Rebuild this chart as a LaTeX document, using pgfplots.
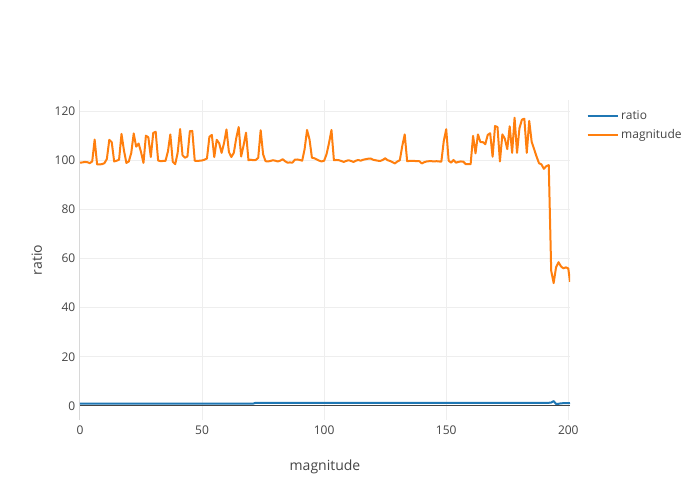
\documentclass[border=0pt]{standalone}
\usepackage{fontspec}
\setmainfont{Open Sans}
\usepackage{pgfplots}
\usepackage{pgfplotstable}
\pgfplotsset{compat=1.18}
\definecolor{plblue}{HTML}{1F77B4}
\definecolor{plorange}{HTML}{FF7F0E}
\definecolor{txtgray}{HTML}{444444}
\definecolor{gridgray}{HTML}{EEEEEE}
\definecolor{zerogray}{HTML}{444444}

\pgfplotstableread{
x y
0 99.0
1 99.1
2 99.3
3 99.2
4 98.8
5 99.5
6 108.4
7 98.3
8 98.3
9 98.4
10 98.8
11 100.5
12 108.3
13 107.3
14 99.5
15 99.8
16 100.2
17 110.7
18 104.0
19 98.9
20 99.5
21 103.0
22 110.9
23 105.5
24 106.8
25 103.3
26 98.9
27 110.0
28 109.3
29 101.3
30 111.1
31 111.6
32 99.9
33 99.6
34 99.7
35 99.7
36 103.5
37 110.5
38 99.4
39 98.4
40 103.0
41 112.7
42 102.0
43 101.0
44 101.5
45 111.8
46 111.9
47 99.8
48 99.7
49 99.8
50 99.9
51 100.2
52 100.7
53 109.5
54 110.3
55 101.3
56 108.3
57 106.9
58 103.0
59 107.0
60 112.5
61 103.3
62 101.3
63 103.0
64 109.0
65 113.5
66 101.5
67 106.0
68 111.2
69 100.0
70 100.2
71 100.0
72 100.1
73 101.0
74 112.2
75 102.4
76 99.6
77 99.5
78 99.7
79 100.0
80 99.8
81 99.5
82 99.8
83 100.4
84 99.6
85 99.0
86 99.1
87 99.0
88 100.2
89 100.3
90 100.1
91 99.8
92 104.5
93 112.3
94 108.5
95 101.0
96 100.8
97 100.3
98 99.8
99 99.5
100 99.8
101 102.5
102 107.0
103 112.3
104 100.0
105 100.1
106 100.0
107 99.7
108 99.3
109 99.7
110 100.0
111 99.7
112 99.3
113 99.8
114 100.1
115 99.8
116 100.2
117 100.4
118 100.6
119 100.7
120 100.2
121 100.0
122 99.8
123 99.7
124 100.1
125 100.8
126 100.0
127 99.7
128 99.2
129 98.7
130 99.5
131 100.0
132 105.8
133 110.5
134 99.6
135 99.7
136 99.7
137 99.7
138 99.6
139 99.6
140 98.7
141 99.2
142 99.5
143 99.6
144 99.6
145 99.5
146 99.6
147 99.5
148 99.4
149 107.8
150 112.6
151 99.8
152 99.0
153 100.1
154 99.0
155 99.3
156 99.5
157 99.4
158 98.4
159 98.4
160 98.4
161 109.9
162 102.8
163 110.5
164 107.4
165 107.4
166 106.5
167 110.3
168 111.0
169 101.4
170 113.9
171 113.5
172 99.5
173 110.5
174 108.8
175 104.5
176 113.8
177 103.0
178 117.3
179 103.0
180 113.0
181 116.5
182 116.9
183 103.0
184 116.0
185 107.5
186 104.5
187 101.5
188 98.8
189 98.3
190 96.5
191 97.6
192 98.0
193 55.0
194 50.0
195 56.5
196 58.5
197 56.8
198 56.0
199 56.4
200 56.0
200.7 50.5
}\magtable

\pgfplotstableread{
x y
0 1.0
71 1.0
72 1.3
192 1.3
193 1.4
194 2.0
195 0.8
196 0.9
197 1.1
200.7 1.2
}\ratiotable

\begin{document}
\begin{tikzpicture}
\begin{axis}[
  scale only axis,
  width=367.5pt, height=240pt,
  xmin=0, xmax=200.7, ymin=-5.7, ymax=124.5,
  xtick={0,50,100,150,200},
  ytick={0,20,40,60,80,100,120},
  axis line style={draw=none},
  major tick length=0pt,
  grid=major,
  grid style={color=gridgray, line width=0.75pt},
  /pgf/number format/assume math mode=true,
  tick label style={font=\fontsize{9}{10}\selectfont, color=txtgray},
  xticklabel style={yshift=-1pt},
  xlabel={magnitude},
  ylabel={ratio},
  label style={font=\fontsize{10.5}{12}\selectfont, color=txtgray},
  xlabel style={at={(axis description cs:0.5,-0.147)}, anchor=center},
  ylabel style={at={(axis description cs:-0.088,0.5)}, anchor=center, rotate=0},
  legend style={at={(1.025,0.985)}, anchor=north west, draw=none, fill=none,
    font=\fontsize{9}{10}\selectfont, text=txtgray, row sep=2pt},
  legend cell align=left,
  legend image code/.code={\draw[#1] (0pt,0pt) -- (22.5pt,0pt);},
]
\draw[zerogray, line width=0.75pt] (axis cs:0,-5.7) -- (axis cs:0,124.5);
\draw[zerogray, line width=0.75pt] (axis cs:0,0) -- (axis cs:200.7,0);
\addplot[plblue, line width=1.5pt, line join=round] table[x=x,y=y] {\ratiotable};
\addlegendentry{ratio}
\addplot[plorange, line width=1.5pt, line join=round] table[x=x,y=y] {\magtable};
\addlegendentry{magnitude}
\end{axis}
\path (current axis.south west) ++(-60pt,-60pt) rectangle ++(525pt,375pt);
\end{tikzpicture}
\end{document}
